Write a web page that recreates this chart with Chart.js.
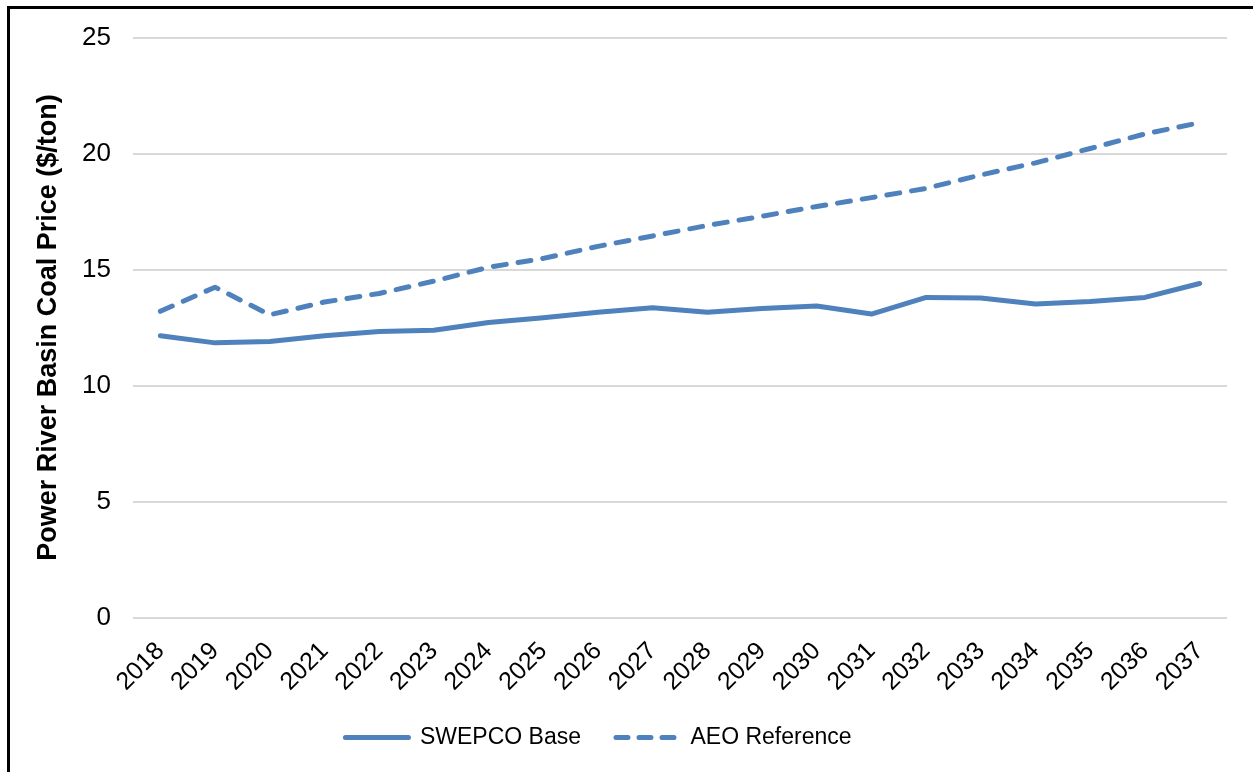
<!DOCTYPE html>
<html>
<head>
<meta charset="utf-8">
<script src="https://cdn.jsdelivr.net/npm/chart.js@4/dist/chart.umd.min.js"></script>
<style>
  html, body { margin: 0; padding: 0; background: #fff; }
  #wrap { position: relative; width: 1253px; height: 772px; overflow: hidden; }
  #frame { position: absolute; left: 7px; top: 6px; right: -10px; bottom: -10px;
           border-left: 3px solid #000; border-top: 3px solid #000; pointer-events: none; }
  canvas { position: absolute; left: 0; top: 0; }
</style>
</head>
<body>
<div id="wrap">
  <canvas id="c" width="1253" height="772"></canvas>
  <div id="frame"></div>
</div>
<script>
// Powder River Basin coal price outlook, $/ton
const years = ['2018','2019','2020','2021','2022','2023','2024','2025','2026','2027',
               '2028','2029','2030','2031','2032','2033','2034','2035','2036','2037'];
const swepcoBase = [12.15, 11.84, 11.9, 12.15, 12.33, 12.38, 12.72, 12.92, 13.16, 13.35,
                    13.16, 13.32, 13.43, 13.08, 13.8, 13.77, 13.52, 13.62, 13.8, 14.4];
const aeoReference = [13.2, 14.24, 13.05, 13.6, 13.97, 14.5, 15.1, 15.48, 16.0, 16.45,
                      16.9, 17.3, 17.72, 18.1, 18.5, 19.08, 19.6, 20.22, 20.85, 21.33];
const yTicks = [0, 5, 10, 15, 20, 25];

const blue = '#4F81BD';
const fontFamily = '"Liberation Sans", Arial, sans-serif';

// nudges the centred legend row sideways
const legendShift = {
  id: 'legendShift',
  afterLayout(chart) {
    const lg = chart.legend;
    if (lg) { lg.left -= 20; lg.right -= 20; }
  }
};

new Chart(document.getElementById('c'), {
  type: 'line',
  data: {
    labels: years,
    datasets: [
      {
        label: 'SWEPCO Base',
        data: swepcoBase,
        borderColor: blue,
        backgroundColor: blue,
        borderWidth: 5,
        borderCapStyle: 'round',
        borderJoinStyle: 'round',
        pointRadius: 0,
        pointStyle: 'line',
        tension: 0
      },
      {
        label: 'AEO Reference',
        data: aeoReference,
        borderColor: blue,
        backgroundColor: blue,
        borderWidth: 5,
        borderDash: [13, 12],
        borderCapStyle: 'round',
        borderJoinStyle: 'round',
        pointRadius: 0,
        pointStyle: 'line',
        tension: 0
      }
    ]
  },
  options: {
    responsive: false,
    animation: false,
    devicePixelRatio: 1,
    layout: { padding: { left: 10, right: 26, top: 37, bottom: 13 } },
    plugins: {
      legend: {
        position: 'bottom',
        labels: {
          usePointStyle: true,
          pointStyleWidth: 63,
          boxHeight: 5,
          padding: 35,
          color: '#000',
          font: { family: fontFamily, size: 23 },
          generateLabels(chart) {
            const items = Chart.defaults.plugins.legend.labels.generateLabels(chart);
            items.forEach(it => {
              const ds = chart.data.datasets[it.datasetIndex];
              it.lineDash = ds.borderDash ? [12, 11] : [];
              it.lineWidth = ds.borderWidth;
              it.strokeStyle = ds.borderColor;
              it.lineCap = ds.borderCapStyle;
            });
            return items;
          }
        }
      },
      tooltip: { enabled: false }
    },
    scales: {
      x: {
        offset: true,
        grid: { display: false },
        border: { display: false },
        ticks: {
          color: '#000',
          font: { family: fontFamily, size: 25 },
          minRotation: 45,
          maxRotation: 45,
          padding: 11,
          autoSkip: false
        },
        afterFit(scale) { scale.height = 73.5; }
      },
      y: {
        min: 0,
        max: 25,
        afterBuildTicks(scale) { scale.ticks = yTicks.map(v => ({ value: v })); },
        grid: { color: '#d9d9d9', lineWidth: 2, drawTicks: false },
        border: { display: false },
        ticks: {
          color: '#000',
          font: { family: fontFamily, size: 26 },
          padding: 22
        },
        title: {
          display: true,
          text: 'Power River Basin Coal Price ($/ton)',
          color: '#000',
          font: { family: fontFamily, size: 27, weight: 'bold' },
          padding: { top: 22, bottom: 0 }
        },
        afterFit(scale) { scale.width = 123; }
      }
    }
  },
  plugins: [legendShift]
});
</script>
</body>
</html>
